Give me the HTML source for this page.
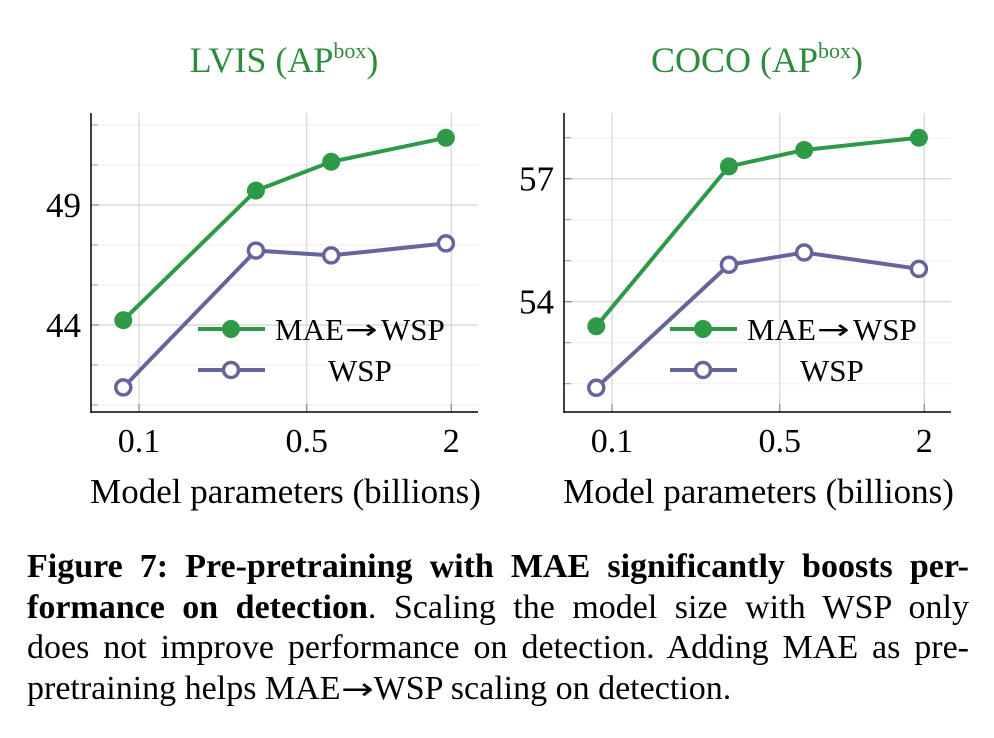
<!DOCTYPE html>
<html><head><meta charset="utf-8"><style>
body{margin:0;background:#fff;width:994px;height:738px;overflow:hidden;font-family:"Liberation Serif",serif}
.cap{position:absolute;left:27px;top:547px;width:942px;font-size:34px;line-height:40.7px;color:#000}
.cap div{text-align:justify;text-align-last:justify;white-space:nowrap}
.cap div.last{text-align-last:left}
.arr{display:inline-block;font-family:"DejaVu Sans",sans-serif;font-size:30px;transform:scaleX(1.3);margin:0 4px}
</style></head><body>
<svg id="chart" width="994" height="530" style="position:absolute;left:0;top:0"></svg>
<div class="cap">
<div><b>Figure 7: Pre-pretraining with MAE significantly boosts per-</b></div>
<div><b>formance on detection</b>. Scaling the model size with WSP only</div>
<div>does not improve performance on detection. Adding MAE as pre-</div>
<div class="last">pretraining helps MAE<span class="arr">→</span>WSP scaling on detection.</div>
</div>
<script>
const params=[0.086,0.307,0.632,1.9];
const lvisMae=[44.2,49.6,50.8,51.8];
const lvisWsp=[41.4,47.1,46.9,47.4];
const cocoMae=[53.4,57.3,57.7,58.0];
const cocoWsp=[51.9,54.9,55.2,54.8];
const xTicks=[0.1,0.5,2];
const xTickLabels=["0.1","0.5","2"];
const lvisYTicks=[44,49];
const cocoYTicks=[54,57];
const NS="http://www.w3.org/2000/svg";
const svg=document.getElementById('chart');
function el(t,a,p){const e=document.createElementNS(NS,t);for(const k in a)e.setAttribute(k,a[k]);(p||svg).appendChild(e);return e;}
function panel(cfg){
  const g=el('g',{});
  
  
  const L=cfg.left,R=cfg.right,T=113,B=412;
  const xs=v=>cfg.x01+(Math.log10(v)+1)*240;
  const ys=v=>cfg.yRef-(v-cfg.vRef)*cfg.ppu;
  for(let v=cfg.vRef-10;v<cfg.vRef+10;v+=cfg.minor){const y=ys(v);if(y<T+5||y>B-5)continue;
    el('line',{x1:L,x2:R,y1:y,y2:y,stroke:'#eee','stroke-width':1},g);
    el('line',{x1:L,x2:L+7,y1:y,y2:y,stroke:'#999','stroke-width':1},g);}
  cfg.yTicks.forEach(v=>{const y=ys(v);
    el('line',{x1:L,x2:R,y1:y,y2:y,stroke:'#d4d4d4','stroke-width':1.2},g);
    el('line',{x1:L,x2:L+8,y1:y,y2:y,stroke:'#888','stroke-width':1.2},g);
    const t=el('text',{x:L-10,y:y+12,'text-anchor':'end','font-size':35},g);t.textContent=v;
    });
  xTicks.forEach((v,i)=>{const x=xs(v);
    el('line',{x1:x,x2:x,y1:T,y2:B,stroke:'#d4d4d4','stroke-width':1.2},g);
    el('line',{x1:x,x2:x,y1:B-8,y2:B,stroke:'#888','stroke-width':1.2},g);
    const t=el('text',{x:x,y:452,'text-anchor':'middle','font-size':34},g);t.textContent=xTickLabels[i];
    });
  el('line',{x1:L,x2:L,y1:T,y2:B+1,stroke:'#000','stroke-width':1.5},g);
  el('line',{x1:L,x2:R,y1:B,y2:B,stroke:'#000','stroke-width':1.5},g);
  const title=el('text',{x:cfg.tx,y:72,'text-anchor':'middle','font-size':36,fill:'#2e8b3c'},g);
  title.innerHTML=cfg.title+' (AP<tspan font-size="22" dy="-14">box</tspan><tspan dy="14">)</tspan>';
  
  const xt=el('text',{x:(L+R)/2+1,y:503,'text-anchor':'middle','font-size':35},g);xt.textContent='Model parameters (billions)';
  
  const series=[[cfg.mae,'#2e9a48',true,'mae-wsp-line'],[cfg.wsp,'#65659c',false,'wsp-line']];
  series.forEach(([d,c,fill,nm])=>{
    const pts=d.map((v,i)=>xs(params[i])+','+ys(v)).join(' ');
    const pl=el('polyline',{points:pts,fill:'none',stroke:c,'stroke-width':4},g);
    
    d.forEach((v,i)=>{const ci=el('circle',{cx:xs(params[i]),cy:ys(v),r:fill?9:7.5,fill:fill?c:'#fff',stroke:c,'stroke-width':fill?0:3.5},g);
      });
  });
  const lx=cfg.lx;
  [[329,'#2e9a48',true,lx+77,true],[370,'#65659c',false,lx+130,false]].forEach(([y,c,f,tx,arrow])=>{
    const lg=el('g',{},g);
    el('line',{x1:lx,x2:lx+67,y1:y,y2:y,stroke:c,'stroke-width':4},lg);
    el('circle',{cx:lx+33,cy:y,r:f?9:7.5,fill:f?c:'#fff',stroke:c,'stroke-width':f?0:3.5},lg);
    if(arrow){
      const t1=el('text',{x:tx,y:y+11,'font-size':31},lg);t1.textContent='MAE';
      const a=el('text',{x:0,y:0,'font-size':28,'font-family':'DejaVu Sans, sans-serif',transform:`translate(${tx+70},${y+10}) scale(1.4,1)`},lg);a.textContent='→';
      const t2=el('text',{x:tx+106,y:y+11,'font-size':31},lg);t2.textContent='WSP';
    } else {
      const t=el('text',{x:tx,y:y+11,'font-size':31},lg);t.textContent='WSP';
    }
  });
}
panel({name:'lvis-chart',left:91,right:478,x01:139,yRef:205,vRef:49,ppu:24,minor:5/3,yTicks:lvisYTicks,mae:lvisMae,wsp:lvisWsp,title:'LVIS',tx:284,lx:198});
panel({name:'coco-chart',left:564,right:951,x01:612,yRef:178.7,vRef:57,ppu:41,minor:1,yTicks:cocoYTicks,mae:cocoMae,wsp:cocoWsp,title:'COCO',tx:757,lx:670});
</script>
</body></html>
